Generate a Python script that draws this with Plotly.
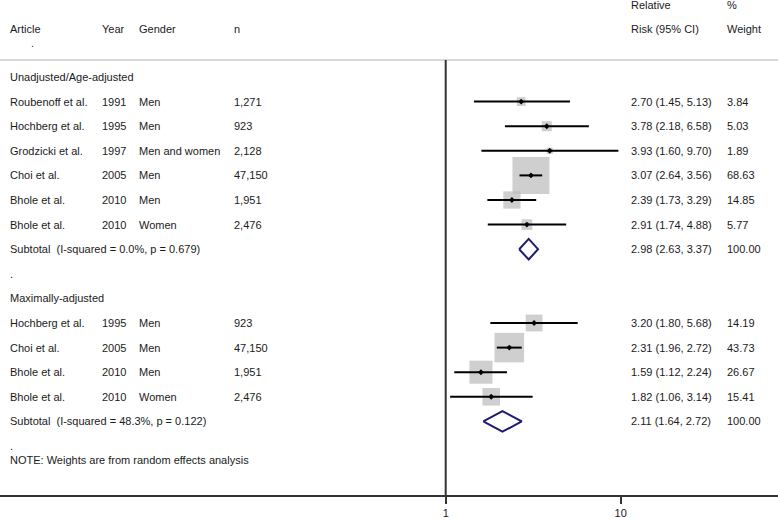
import plotly.graph_objects as go
import math

# ---------------- data ----------------
g1_article = ["Roubenoff et al.", "Hochberg et al.", "Grodzicki et al.", "Choi et al.", "Bhole et al.", "Bhole et al."]
g1_year = ["1991", "1995", "1997", "2005", "2010", "2010"]
g1_gender = ["Men", "Men", "Men and women", "Men", "Men", "Women"]
g1_n = ["1,271", "923", "2,128", "47,150", "1,951", "2,476"]
g1_rr = [2.70, 3.78, 3.93, 3.07, 2.39, 2.91]
g1_lci = [1.45, 2.18, 1.60, 2.64, 1.73, 1.74]
g1_uci = [5.13, 6.58, 9.70, 3.56, 3.29, 4.88]
g1_w = [3.84, 5.03, 1.89, 68.63, 14.85, 5.77]
g1_sub = (2.98, 2.63, 3.37, 100.00)
g1_sub_label = "Subtotal  (I-squared = 0.0%, p = 0.679)"

g2_article = ["Hochberg et al.", "Choi et al.", "Bhole et al.", "Bhole et al."]
g2_year = ["1995", "2005", "2010", "2010"]
g2_gender = ["Men", "Men", "Men", "Women"]
g2_n = ["923", "47,150", "1,951", "2,476"]
g2_rr = [3.20, 2.31, 1.59, 1.82]
g2_lci = [1.80, 1.96, 1.12, 1.06]
g2_uci = [5.68, 2.72, 2.24, 3.14]
g2_w = [14.19, 43.73, 26.67, 15.41]
g2_sub = (2.11, 1.64, 2.72, 100.00)
g2_sub_label = "Subtotal  (I-squared = 48.3%, p = 0.122)"

group_titles = ["Unadjusted/Age-adjusted", "Maximally-adjusted"]
note = "NOTE: Weights are from random effects analysis"
x_ticks = [1, 10]

# ---------------- layout helpers ----------------
W, H = 778, 518
FONT = "Liberation Sans, Arial, Helvetica, sans-serif"
TXT = "#1a1a1a"
FS = 11
col_px = {"article": 8, "year": 100, "gender": 137, "n": 232, "est": 629, "wt": 725}

fig = go.Figure()
annotations = []

def txt(xpx, y, s):
    annotations.append(dict(x=xpx / W, xref="paper", y=y, yref="y", text=s,
                            showarrow=False, xanchor="left", yanchor="middle",
                            font=dict(family=FONT, size=FS, color=TXT)))

# headers
txt(col_px["est"], -2.93, "Relative")
txt(col_px["wt"], -2.93, "%")
for key, s in [("article", "Article"), ("year", "Year"), ("gender", "Gender"), ("n", "n"),
               ("est", "Risk (95% CI)"), ("wt", "Weight")]:
    txt(col_px[key], -1.95, s)
txt(29, -1.40, ".")

def add_group(start, title, art, yr, gen, n, rr, lci, uci, w, sub, sub_label):
    txt(col_px["article"], start, title)
    rows = [start + 1 + i for i in range(len(art))]
    for i, r in enumerate(rows):
        txt(col_px["article"], r, art[i])
        txt(col_px["year"], r, yr[i])
        txt(col_px["gender"], r, gen[i])
        txt(col_px["n"], r, n[i])
        txt(col_px["est"], r, f"{rr[i]:.2f} ({lci[i]:.2f}, {uci[i]:.2f})")
        txt(col_px["wt"], r, f"{w[i]:.2f}")
    # weight squares
    fig.add_trace(go.Scatter(x=rr, y=rows, mode="markers", hoverinfo="skip",
                             marker=dict(symbol="square", color="#bababa",
                                         size=[37 * math.sqrt(v / 68.63) for v in w],
                                         line=dict(width=0))))
    # CI and point estimate
    fig.add_trace(go.Scatter(x=rr, y=rows, mode="markers", hoverinfo="skip",
                             marker=dict(symbol="diamond", color="black", size=4.5),
                             error_x=dict(type="data", symmetric=False,
                                          array=[u - e for u, e in zip(uci, rr)],
                                          arrayminus=[e - l for e, l in zip(rr, lci)],
                                          color="black", thickness=2, width=0)))
    # subtotal
    srow = rows[-1] + 1
    est, lo, hi, sw = sub
    txt(col_px["article"], srow, sub_label)
    txt(col_px["est"], srow, f"{est:.2f} ({lo:.2f}, {hi:.2f})")
    txt(col_px["wt"], srow, f"{sw:.2f}")
    h = 0.42
    fig.add_trace(go.Scatter(x=[lo, est, hi, est, lo], y=[srow, srow - h, srow, srow + h, srow],
                             mode="lines", fill="toself", fillcolor="white",
                             line=dict(color="#1c1c6e", width=2), hoverinfo="skip"))
    return srow

s1 = add_group(0, group_titles[0], g1_article, g1_year, g1_gender, g1_n,
               g1_rr, g1_lci, g1_uci, g1_w, g1_sub, g1_sub_label)
txt(col_px["article"], s1 + 1, ".")
s2 = add_group(s1 + 2, group_titles[1], g2_article, g2_year, g2_gender, g2_n,
               g2_rr, g2_lci, g2_uci, g2_w, g2_sub, g2_sub_label)
txt(col_px["article"], s2 + 1, ".")
txt(col_px["article"], s2 + 1.55, note)

# lines
shapes = [
    dict(type="line", xref="paper", yref="y", x0=0, x1=1, y0=-0.69, y1=-0.69,
         line=dict(color="#cccccc", width=1.5)),
    dict(type="line", xref="x", yref="y", x0=1, x1=1, y0=-0.69, y1=16.99,
         line=dict(color="#333333", width=2)),
]

row_px = 24.6
top_k = -77 / row_px
bot_k = (495 - 77) / row_px

fig.update_layout(
    template="none",
    width=W, height=H, margin=dict(l=0, r=0, t=0, b=H - 495, pad=0),
    plot_bgcolor="white", paper_bgcolor="white", showlegend=False,
    font=dict(family=FONT, size=FS, color=TXT),
    annotations=annotations, shapes=shapes,
    xaxis=dict(type="log", range=[-445.7 / 175, (W - 445.7) / 175],
               tickvals=x_ticks, ticktext=[str(t) for t in x_ticks],
               ticks="outside", ticklen=7, tickwidth=1.5, tickcolor="#333333",
               showline=True, linecolor="#333333", linewidth=1.5,
               showgrid=False, zeroline=False, color=TXT,
               tickfont=dict(family=FONT, size=FS, color=TXT)),
    yaxis=dict(range=[bot_k, top_k], visible=False, showgrid=False, zeroline=False),
)

fig.write_html("out.html", config={"displayModeBar": False},
               post_script="document.body.style.margin='0';document.body.style.overflow='hidden';")
